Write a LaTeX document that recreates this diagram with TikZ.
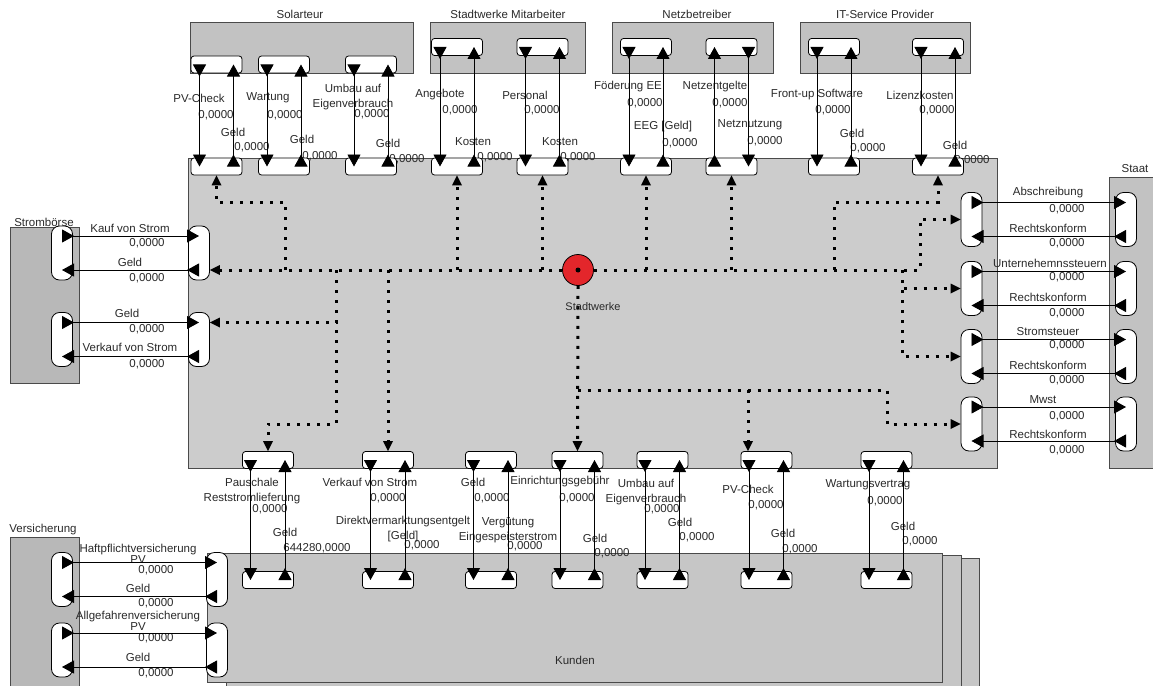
\documentclass[tikz,border=0pt]{standalone}
\usepackage{fontspec}
\setmainfont{Liberation Sans}
\usetikzlibrary{arrows.meta, calc}
\definecolor{agentgray}{HTML}{C2C2C2}
\definecolor{mainfill}{HTML}{CCCCCC}
\definecolor{kundfill}{HTML}{C6C6C6}
\definecolor{edgegray}{HTML}{4A4A4A}
\definecolor{txtgray}{HTML}{2A2A2A}
\definecolor{swred}{HTML}{E3262B}

\begin{document}
\begin{tikzpicture}[x=1pt, y=-1pt,
  agent/.style={fill=agentgray, draw=edgegray, line width=0.9pt},
  hport/.style={draw=black, fill=white, rounded corners=3pt, minimum width=51pt, minimum height=17pt, inner sep=0pt, line width=0.8pt},
  vport/.style={draw=black, fill=white, rounded corners=8pt, minimum width=21pt, minimum height=54pt, inner sep=0pt, line width=0.8pt},
  flow/.style={line width=0.9pt, {Triangle[reversed, length=12pt, width=13pt]}-{Triangle[length=12pt, width=13pt]}},
  link/.style={line width=3pt, dash pattern=on 3pt off 7pt, -{Triangle[length=10pt, width=10pt, line width=0pt]}},
  lab/.style={font=\fontsize{11.5}{14.5}\selectfont, text=txtgray, inner sep=0pt, align=center}]

% Background
\useasboundingbox (0,0) rectangle (1153,685);
\fill[white] (0,0) rectangle (1153,685);
\clip (0,0) rectangle (1153,685);

%% Agents
\draw[agent] (190,22) rectangle (413,73);
\draw[agent] (430,22) rectangle (585,73);
\draw[agent] (612,22) rectangle (773,73);
\draw[agent] (800,22) rectangle (970,73);
\draw[agent, fill=mainfill] (188,158) rectangle (997,468);
\draw[agent, fill=agentgray!95!black] (10,227) rectangle (79,383);
\draw[agent] (1109,177) rectangle (1170,468);
\draw[agent, fill=agentgray!95!black] (10,537) rectangle (79,700);
% Kunden (population)
\draw[agent, fill=kundfill] (245,558) rectangle (979,700);
\draw[agent, fill=kundfill] (226,555) rectangle (961,700);
\draw[agent, fill=kundfill] (207,553) rectangle (942,682);

% Titles
\node[lab] (tsol) at (300,14) {Solarteur};
\node[lab] (tmit) at (508,14) {Stadtwerke Mitarbeiter};
\node[lab] (tnetz) at (697,14) {Netzbetreiber};
\node[lab] (tit) at (885,14) {IT-Service Provider};
\node[lab] (tboe) at (44,222) {Strombörse};
\node[lab] (tstaat) at (1135,169) {Staat};
\node[lab] (tvers) at (43,530) {Versicherung};
\node[lab] (tkund) at (575,660) {Kunden};

%% Flow labels
\foreach \x/\y/\t [count=\k] in {199/98/PV-Check, 233/132/Geld, 268/98/Wartung, 302/139/Geld,
    388/143/Geld, 440/95/Angebote, 473/142/Kosten, 525/95/Personal, 560/142/Kosten,
    628/87/Föderung EE, 715/87/Netzentgelte, 750/125/Netznutzung,
    817/95/Front-up Software, 852/133/Geld, 920/95/Lizenzkosten, 955/145/Geld,
    130/228/Kauf von Strom, 130/262/Geld, 127/313/Geld, 130/347/Verkauf von Strom,
    1048/193/Abschreibung, 1048/228/Rechtskonform, 1050/263/Unternehemnssteuern, 1048/297/Rechtskonform,
    1048/332/Stromsteuer, 1048/365/Rechtskonform, 1043/400/Mwst, 1048/434/Rechtskonform,
    285/532/Geld, 370/482/Verkauf von Strom, 473/482/Geld, 560/482/Einrichtungsgebühr,
    595/538/Geld, 680/522/Geld, 748/489/PV-Check, 783/533/Geld, 868/485/Wartungsvertrag,
    903/526/Geld, 138/588/Geld, 138/657/Geld}
  \node[lab] (nm\k) at (\x,\y) {\t};
\node[lab] (eeg) at (663,127) {EEG {[}Geld{]}};
\node[lab] (umbau1) at (353,97) {Umbau auf\\Eigenverbrauch};
\node[lab] (pausch) at (252,491) {Pauschale\\Reststromlieferung};
\node[lab] (direkt) at (403,529) {Direktvermarktungsentgelt\\{}[Geld]};
\node[lab] (verg) at (508,530) {Vergütung\\Eingespeisterstrom};
\node[lab] (umbau2) at (646,492) {Umbau auf\\Eigenverbrauch};
\node[lab] (haft) at (138,554) {Haftpflichtversicherung\\[-3pt]PV};
\node[lab] (allg) at (138,621) {Allgefahrenversicherung\\[-3pt]PV};
\node[lab] (bigval) at (317,548) {644280,0000};
\foreach \x/\y [count=\k] in {216/115, 252/147, 285/115, 320/156, 372/114, 407/159, 460/110, 495/157,
    542/110, 578/157, 645/103, 680/143, 730/103, 765/141, 833/110, 868/148, 937/110, 972/160,
    147/243, 147/278, 147/329, 147/364,
    1067/209, 1067/243, 1067/277, 1067/313, 1067/345, 1067/380, 1067/416, 1067/450,
    270/509, 388/498, 422/545, 492/498, 525/546, 577/498, 612/553, 662/509, 697/537,
    766/505, 800/549, 885/501, 920/541,
    156/570, 156/603, 156/638, 156/673}
  \node[lab] (val\k) at (\x,\y) {0,0000};

%% Ports
\foreach \i/\x/\y in {1/216.5/64.5, 2/284/64.5, 3/371/64.5, 4/457/47, 5/542.5/47,
    6/646/47, 7/731.5/47, 8/834/47, 9/938/47} {
  \node[hport] (up\i) at (\x,\y) {};
  \node[hport] (mt\i) at (\x,166.5) {};
}
\foreach \i/\x in {1/268, 2/388, 3/491, 4/577.5, 5/662.5, 6/766.5, 7/886.5} {
  \node[hport] (mb\i) at (\x,460) {};
  \node[hport] (kd\i) at (\x,580) {};
}
\node[vport] (sb1) at (62,253) {};
\node[vport] (sb2) at (62,339.5) {};
\node[vport] (ml1) at (199,253) {};
\node[vport] (ml2) at (199,339.5) {};
\foreach \i/\y in {1/219.5, 2/288.5, 3/356.5, 4/424} {
  \node[vport] (mr\i) at (971.5,\y) {};
  \node[vport] (st\i) at (1126,\y) {};
}
\node[vport] (vs1) at (62,579.5) {};
\node[vport] (vs2) at (62,650) {};
\node[vport] (kl1) at (217,579.5) {};
\node[vport] (kl2) at (217,650) {};

%% Stadtwerke statechart links
\node[circle, draw=black, fill=swred, minimum size=31pt, inner sep=0pt, line width=0.8pt] (sw) at (578,270) {};
\fill (sw) circle (2.5pt);
\foreach \n/\x in {a/285, b/336, c/388, d/457, e/542.5, f/646, g/731.5, h/834, k/902, m/920}
  \coordinate (j\n) at (\x,270);
\coordinate (jn) at (577.5,390);
\coordinate (jp) at (748,390);

\draw[link] (sw.west) -- ([yshift=-17pt]ml1.east);
\draw[link] (ja) |- ([yshift=-27pt]mt1.south) -- (mt1.south);
\draw[link] (jd) -- (mt4.south);
\draw[link] (je) -- (mt5.south);
\draw[link] (jf) -- (mt6.south);
\draw[link] (jg) -- (mt7.south);
\draw[link] (jh) |- ([yshift=-27pt]mt9.south) -- (mt9.south);
\draw[link] (sw.east) -- (jm) |- (mr1.west);
\draw[link] (jk) |- (mr2.west);
\draw[link] (jk) |- (mr3.west);
\draw[link] (jb) |- ([yshift=17pt]ml2.east);
\draw[link] (jb) |- ([yshift=27pt]mb1.north) -- (mb1.north);
\draw[link] (jc) -- (mb2.north);
\draw[link] (sw.south) -- (mb4.north);
\draw[link] (jn) -- (887,390) |- (mr4.west);
\draw[link] (jp) -- ([xshift=-18.5pt]mb6.north);
\node[lab, font=\fontsize{11}{12}\selectfont] (swlab) at (593,307) {Stadtwerke};

%% Flows
% top partners
\foreach \i in {1,2,3,4,5,6,8,9} {
  \draw[flow] ([xshift=-17pt]up\i.center) -- ([xshift=-17pt]mt\i.center);
  \draw[flow] ([xshift=17pt]mt\i.center) -- ([xshift=17pt]up\i.center);
}
\draw[flow] ([xshift=-17pt]mt7.center) -- ([xshift=-17pt]up7.center);
\draw[flow] ([xshift=17pt]up7.center) -- ([xshift=17pt]mt7.center);
% Kunden
\foreach \i in {1,...,7} {
  \draw[flow] ([xshift=-17.5pt]mb\i.center) -- ([xshift=-17.5pt]kd\i.center);
  \draw[flow] ([xshift=17pt]kd\i.center) -- ([xshift=17pt]mb\i.center);
}
% Stromboerse
\foreach \i in {1,2} {
  \draw[flow] ([yshift=17pt]sb\i.center) -- ([yshift=17pt]ml\i.center);
  \draw[flow] ([yshift=-17pt]ml\i.center) -- ([yshift=-17pt]sb\i.center);
}
% Staat
\foreach \i in {1,...,4} {
  \draw[flow] ([yshift=17pt]mr\i.center) -- ([yshift=17pt]st\i.center);
  \draw[flow] ([yshift=-17pt]st\i.center) -- ([yshift=-17pt]mr\i.center);
}
% Versicherung
\foreach \i in {1,2} {
  \draw[flow] ([yshift=17pt]vs\i.center) -- ([yshift=17pt]kl\i.center);
  \draw[flow] ([yshift=-17pt]kl\i.center) -- ([yshift=-17pt]vs\i.center);
}

\end{tikzpicture}
\end{document}
